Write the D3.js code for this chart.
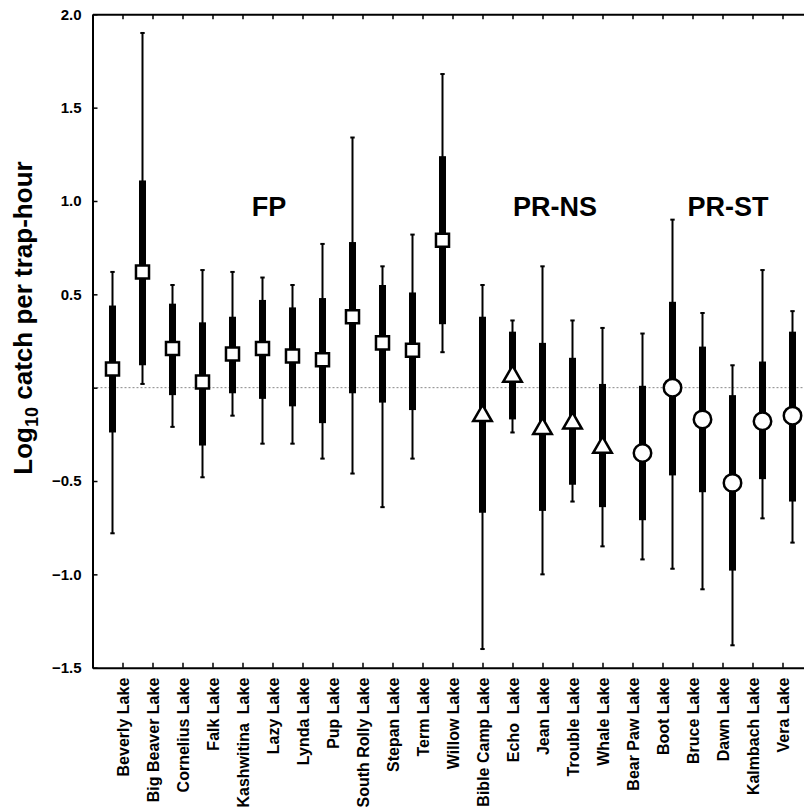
<!DOCTYPE html>
<html>
<head>
<meta charset="utf-8">
<script src="https://cdn.jsdelivr.net/npm/d3@7"></script>
<style>
  body { margin: 0; background: #fff; }
  svg { display: block; font-family: Arial, "Liberation Sans", sans-serif; }
</style>
</head>
<body>
<svg id="chart" width="804" height="811"></svg>
<script>
var lakes = ["Beverly Lake", "Big Beaver Lake", "Cornelius Lake", "Falk Lake", "Kashwitina  Lake",
  "Lazy Lake", "Lynda Lake", "Pup Lake", "South Rolly Lake", "Stepan Lake", "Term Lake", "Willow Lake",
  "Bible Camp Lake", "Echo  Lake", "Jean Lake", "Trouble Lake", "Whale Lake",
  "Bear Paw Lake", "Boot Lake", "Bruce Lake", "Dawn Lake", "Kalmbach Lake", "Vera Lake"];
var groupNames = ["FP", "PR-NS", "PR-ST"];
var lakeGroup = ["FP", "FP", "FP", "FP", "FP", "FP", "FP", "FP", "FP", "FP", "FP", "FP",
  "PR-NS", "PR-NS", "PR-NS", "PR-NS", "PR-NS",
  "PR-ST", "PR-ST", "PR-ST", "PR-ST", "PR-ST", "PR-ST"];
var whiskerLow = [-0.78, 0.02, -0.21, -0.48, -0.15, -0.30, -0.30, -0.38, -0.46, -0.64, -0.38, 0.19,
  -1.40, -0.24, -1.00, -0.61, -0.85,
  -0.92, -0.97, -1.08, -1.38, -0.70, -0.83];
var boxLow = [-0.24, 0.12, -0.04, -0.31, -0.03, -0.06, -0.10, -0.19, -0.03, -0.08, -0.12, 0.34,
  -0.67, -0.17, -0.66, -0.52, -0.64,
  -0.71, -0.47, -0.56, -0.98, -0.49, -0.61];
var median = [0.10, 0.62, 0.21, 0.03, 0.18, 0.21, 0.17, 0.15, 0.38, 0.24, 0.20, 0.79,
  -0.15, 0.06, -0.22, -0.19, -0.32,
  -0.35, 0.00, -0.17, -0.51, -0.18, -0.15];
var boxHigh = [0.44, 1.11, 0.45, 0.35, 0.38, 0.47, 0.43, 0.48, 0.78, 0.55, 0.51, 1.24,
  0.38, 0.30, 0.24, 0.16, 0.02,
  0.01, 0.46, 0.22, -0.04, 0.14, 0.30];
var whiskerHigh = [0.62, 1.90, 0.55, 0.63, 0.62, 0.59, 0.55, 0.77, 1.34, 0.65, 0.82, 1.68,
  0.55, 0.36, 0.65, 0.36, 0.32,
  0.29, 0.90, 0.40, 0.12, 0.63, 0.41];
var yTicks = [-1.5, -1.0, -0.5, 0, 0.5, 1.0, 1.5, 2.0];

var svg = d3.select("#chart");
var plotLeft = 92.5, plotRight = 812.5, plotTop = 14.3, plotBottom = 667.7;

var x = d3.scalePoint().domain(lakes).range([plotLeft, plotRight]).padding(1);
var dodge = d3.scalePoint().domain(groupNames).range([-10, 10]);
var y = d3.scaleLinear().domain([-1.5, 2]).range([plotBottom, plotTop]);

var data = lakes.map(function(name, i) {
  return {name: name, group: lakeGroup[i], wlo: whiskerLow[i], blo: boxLow[i],
    med: median[i], bhi: boxHigh[i], whi: whiskerHigh[i]};
});
function cx(d) { return x(d.name) + dodge(d.group); }

// zero reference line
svg.append("line")
  .attr("x1", plotLeft).attr("x2", plotRight)
  .attr("y1", y(0)).attr("y2", y(0))
  .attr("stroke", "#888").attr("stroke-width", 1)
  .attr("stroke-dasharray", "2,2");

// axes
var yAxis = svg.append("g")
  .attr("transform", "translate(" + plotLeft + ",0)")
  .call(d3.axisLeft(y).tickValues(yTicks).tickSize(-5).tickSizeOuter(0).tickPadding(11)
    .tickFormat(function(v) { return v === 0 ? "" : d3.format(".1f")(v); }));
var xAxis = svg.append("g")
  .attr("transform", "translate(0," + plotBottom + ")")
  .call(d3.axisBottom(x).tickSize(-5).tickSizeOuter(0));
var topAxis = svg.append("g")
  .attr("transform", "translate(0," + plotTop + ")")
  .call(d3.axisTop(x).tickSize(-5).tickSizeOuter(0).tickFormat(""));

[yAxis, xAxis, topAxis].forEach(function(g) {
  g.select(".domain").attr("stroke", "#000").attr("stroke-width", 2);
  g.selectAll(".tick line").attr("stroke", "#000").attr("stroke-width", 1.5);
});
yAxis.selectAll("text")
  .attr("font-size", 15).attr("font-weight", "bold").attr("fill", "#000")
  .attr("font-family", "Arial, 'Liberation Sans', sans-serif");
xAxis.selectAll("text")
  .attr("font-size", 16).attr("font-weight", "bold").attr("fill", "#000")
  .attr("font-family", "Arial, 'Liberation Sans', sans-serif")
  .attr("text-anchor", "end")
  .attr("transform", "rotate(-90)")
  .attr("x", -10).attr("y", 0).attr("dy", "0.35em")
  .style("white-space", "pre");

// whiskers
var marks = svg.append("g");
marks.selectAll("line.whisker").data(data).join("line")
  .attr("class", "whisker")
  .attr("x1", cx).attr("x2", cx)
  .attr("y1", function(d) { return y(d.wlo); })
  .attr("y2", function(d) { return y(d.whi); })
  .attr("stroke", "#000").attr("stroke-width", 2);
marks.selectAll("line.cap").data(data.flatMap(function(d) {
    return [{d: d, v: d.wlo}, {d: d, v: d.whi}];
  })).join("line")
  .attr("class", "cap")
  .attr("x1", function(c) { return cx(c.d) - 2.2; })
  .attr("x2", function(c) { return cx(c.d) + 2.2; })
  .attr("y1", function(c) { return y(c.v); })
  .attr("y2", function(c) { return y(c.v); })
  .attr("stroke", "#000").attr("stroke-width", 2);
// thick bars
marks.selectAll("rect.box").data(data).join("rect")
  .attr("class", "box")
  .attr("x", function(d) { return cx(d) - 3.5; })
  .attr("width", 7)
  .attr("y", function(d) { return y(d.bhi); })
  .attr("height", function(d) { return y(d.blo) - y(d.bhi); })
  .attr("fill", "#000");

// median markers
var shapes = {"FP": d3.symbolSquare, "PR-NS": d3.symbolTriangle, "PR-ST": d3.symbolCircle};
var sizes = {"FP": 170, "PR-NS": 150, "PR-ST": 240};
marks.selectAll("path.med").data(data).join("path")
  .attr("class", "med")
  .attr("transform", function(d) { return "translate(" + cx(d) + "," + y(d.med) + ")"; })
  .attr("d", function(d) { return d3.symbol().type(shapes[d.group]).size(sizes[d.group])(); })
  .attr("fill", "#fff").attr("stroke", "#000").attr("stroke-width", 2.5);

// group labels
var groupLabelX = [269, 555, 728];
svg.selectAll("text.grp").data(groupNames).join("text")
  .attr("class", "grp")
  .attr("x", function(g, i) { return groupLabelX[i]; })
  .attr("y", 216)
  .attr("text-anchor", "middle")
  .attr("font-size", 27).attr("font-weight", "bold")
  .text(function(g) { return g; });

// y title
var title = svg.append("text")
  .attr("transform", "translate(32,318) rotate(-90)")
  .attr("text-anchor", "middle")
  .attr("font-size", 26).attr("font-weight", "bold");
title.append("tspan").text("Log");
title.append("tspan").attr("font-size", 18).attr("dy", 6).text("10");
title.append("tspan").attr("dy", -6).text(" catch per trap-hour");
</script>
</body>
</html>
